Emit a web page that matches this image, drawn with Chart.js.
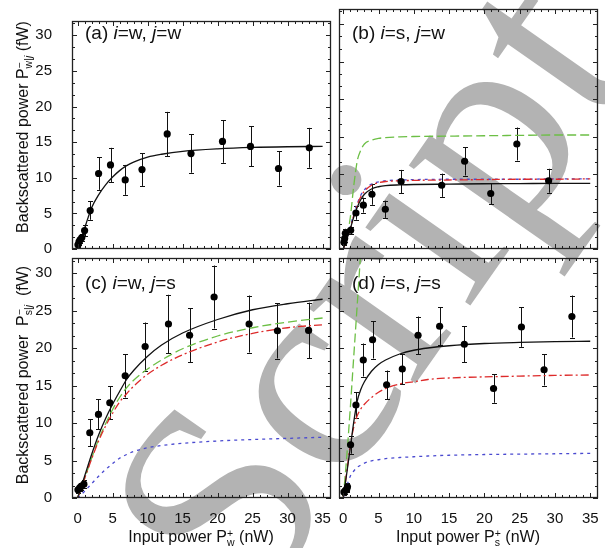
<!DOCTYPE html>
<html>
<head>
<meta charset="utf-8">
<script src="https://cdn.jsdelivr.net/npm/chart.js@4.4.1/dist/chart.umd.min.js"></script>
<style>
  body { margin: 0; background: #fff; font-family: "Liberation Sans", Arial, sans-serif; }
  #wrap { position: relative; width: 605px; height: 548px; overflow: hidden; }
  canvas { position: absolute; left: 0; top: 0; z-index: 2; }
  .wm { position: absolute; z-index: 1; left: 366px; top: 288px; font-family: "Liberation Serif", serif;
        font-size: 285px; color: #b3b3b3; white-space: nowrap; line-height: 1;
        transform: translate(-50%, -50%) rotate(-55deg); }
  .lbl { position: absolute; z-index: 3; font-size: 19px; line-height: 22px; color: #111; white-space: nowrap; }
  .ytitle { position: absolute; z-index: 3; font-size: 16px; color: #111; white-space: nowrap;
            transform: translate(-50%, -50%) rotate(-90deg); }
  .xtitle { position: absolute; z-index: 3; font-size: 16px; color: #111; white-space: nowrap;
            transform: translate(-50%, -50%); }
  .ss { display: inline-block; vertical-align: -4px; font-size: 10.5px; line-height: 9px; text-align: left; }
  .ss span { display: block; }
</style>
</head>
<body>
<div id="wrap">
  <div class="wm">Script</div>
  <canvas id="ca" width="605" height="548"></canvas>
  <canvas id="cb" width="605" height="548"></canvas>
  <canvas id="cc" width="605" height="548"></canvas>
  <canvas id="cd" width="605" height="548"></canvas>
  <div class="lbl" style="left:85px;top:22px">(a) <i>i</i>=w, <i>j</i>=w</div>
  <div class="lbl" style="left:352px;top:22px">(b) <i>i</i>=s, <i>j</i>=w</div>
  <div class="lbl" style="left:85px;top:272px">(c) <i>i</i>=w, <i>j</i>=s</div>
  <div class="lbl" style="left:352px;top:272px">(d) <i>i</i>=s, <i>j</i>=s</div>
  <div class="ytitle" style="left:23px;top:127px">Backscattered power P<span class="ss"><span>&minus;</span><span>w|<i>j</i></span></span> (fW)</div>
  <div class="ytitle" style="left:23px;top:375px">Backscattered power &nbsp;P<span class="ss"><span>&minus;</span><span>s|<i>j</i></span></span>&nbsp; (fW)</div>
  <div class="xtitle" style="left:201px;top:537px">Input power P<span class="ss"><span>+</span><span>w</span></span> (nW)</div>
  <div class="xtitle" style="left:468px;top:537px">Input power P<span class="ss"><span>+</span><span>s</span></span> (nW)</div>
</div>
<script>
// tick labels
const xTickVals = [0, 5, 10, 15, 20, 25, 30, 35];
const yTickVals = [0, 5, 10, 15, 20, 25, 30];

// (a) i=w, j=w
const aX = [0.05, 0.2, 0.35, 0.6, 1.0, 1.8, 3.0, 4.7, 6.8, 9.2, 12.8, 16.2, 20.7, 24.7, 28.7, 33.1];
const aY = [0.6, 1.0, 1.3, 1.6, 2.6, 5.4, 10.6, 11.8, 9.7, 11.15, 16.15, 13.4, 15.1, 14.4, 11.3, 14.2];
const aErr = [0.3, 0.4, 0.4, 0.5, 0.8, 1.3, 2.3, 2.4, 2.1, 2.3, 3.1, 2.7, 3.0, 2.8, 2.4, 2.8];
const aFitX = [0, 0.5, 1, 1.5, 2, 3, 4, 5, 6, 7, 8, 10, 12, 15, 20, 25, 30, 35];
const aFitBlack = [0, 1.4, 2.9, 4.4, 5.8, 7.6, 9.0, 10.1, 11.0, 11.7, 12.2, 12.9, 13.3, 13.7, 14.05, 14.25, 14.35, 14.4];

// (b) i=s, j=w
const bX = [0.1, 0.2, 0.3, 1.05, 1.8, 2.85, 4.07, 5.96, 8.2, 13.95, 17.2, 20.9, 24.6, 29.1];
const bY = [0.9, 1.4, 2.1, 2.5, 4.8, 5.85, 7.3, 5.3, 9.0, 8.5, 11.7, 7.4, 14.0, 9.1];
const bErr = [0.4, 0.5, 0.6, 0.5, 0.9, 1.0, 1.4, 1.15, 1.55, 1.55, 1.9, 1.4, 2.2, 1.6];
const bFitX = [0, 0.5, 1, 1.5, 2, 2.5, 3, 4, 5, 6, 8, 10, 15, 20, 25, 30, 35];
const bFitGreen = [0, 1.5, 4.2, 8.5, 11.8, 13.2, 14.0, 14.5, 14.75, 14.85, 14.95, 15.0, 15.05, 15.1, 15.15, 15.2, 15.2];
const bFitRed = [0, 1.3, 2.8, 4.5, 5.9, 7.0, 7.7, 8.5, 8.85, 9.0, 9.1, 9.15, 9.2, 9.25, 9.3, 9.3, 9.35];
const bFitBlue = [0, 1.4, 3.0, 4.7, 6.1, 7.2, 7.9, 8.65, 8.95, 9.1, 9.2, 9.25, 9.3, 9.3, 9.3, 9.35, 9.35];
const bFitBlack = [0, 1.3, 2.7, 4.3, 5.6, 6.6, 7.3, 8.0, 8.3, 8.45, 8.55, 8.6, 8.65, 8.7, 8.72, 8.75, 8.75];

// (c) i=w, j=s
const cX = [0.05, 0.3, 0.5, 0.9, 1.74, 2.98, 4.6, 6.8, 9.65, 12.98, 16.0, 19.5, 24.5, 28.55, 33.0];
const cY = [1.1, 1.35, 1.55, 1.85, 8.7, 11.15, 12.7, 16.3, 20.2, 23.2, 21.7, 26.8, 23.2, 22.3, 22.35];
const cErr = [0.4, 0.4, 0.5, 0.5, 1.8, 2.0, 2.2, 2.9, 3.2, 3.9, 3.6, 4.2, 3.8, 3.7, 3.7];
const cFitX = [0, 1, 2, 3, 4, 5, 6, 7, 8, 10, 12, 15, 20, 25, 30, 35];
const cFitBlack = [0, 2.9, 5.8, 8.4, 10.6, 12.5, 14.2, 15.8, 17.0, 18.9, 20.4, 22.0, 23.8, 25.1, 25.9, 26.5];
const cFitGreen = [0, 2.6, 5.3, 7.8, 9.9, 11.8, 13.4, 14.7, 15.7, 17.2, 18.4, 19.9, 21.6, 22.7, 23.45, 24.0];
const cFitRed = [0, 2.6, 5.2, 7.6, 9.6, 11.3, 12.8, 13.9, 14.9, 16.5, 17.7, 19.1, 20.8, 21.95, 22.7, 23.1];
const cFitBlue = [0, 0.9, 1.9, 2.9, 3.8, 4.6, 5.3, 5.8, 6.2, 6.7, 7.0, 7.3, 7.6, 7.8, 7.95, 8.1];

// (d) i=s, j=s
const dX = [0.1, 0.3, 0.5, 0.6, 1.04, 1.8, 2.84, 4.16, 6.15, 8.37, 10.6, 13.66, 17.16, 21.3, 25.25, 28.46, 32.4];
const dY = [0.8, 1.0, 1.2, 1.5, 7.1, 12.4, 18.4, 21.1, 15.1, 17.2, 21.7, 22.9, 20.5, 14.6, 22.8, 17.1, 24.2];
const dErr = [0.4, 0.4, 0.4, 0.5, 1.2, 1.7, 2.2, 2.5, 1.9, 2.0, 2.5, 2.55, 2.4, 1.9, 2.65, 2.1, 2.8];
const dFitX = [0, 0.5, 1, 1.5, 2, 2.5, 3, 4, 5, 6, 8, 10, 12, 15, 20, 25, 30, 35];
const dFitBlack = [0, 3.3, 6.7, 10.2, 13.0, 14.5, 15.5, 16.9, 17.8, 18.4, 19.2, 19.7, 20.0, 20.3, 20.6, 20.75, 20.85, 20.9];
const dFitRed = [0, 3.5, 7.0, 9.5, 11.0, 11.9, 12.5, 13.4, 14.1, 14.6, 15.2, 15.5, 15.8, 16.0, 16.15, 16.25, 16.35, 16.4];
const dFitBlue = [0, 1.6, 2.9, 3.6, 4.1, 4.4, 4.65, 4.95, 5.1, 5.25, 5.4, 5.5, 5.6, 5.7, 5.8, 5.85, 5.9, 5.95];
const dGreenX = [0, 0.5, 1, 1.5, 2, 2.5, 3];
const dFitGreen = [0, 5.5, 12, 19, 26, 33, 39];

const GREEN = '#6cbf45', RED = '#dd2a2a', BLUE = '#4a4ad0', BLACK = '#111';
const Y_MINOR = 5 / 3;

const pts = (xs, ys) => xs.map((x, i) => ({ x: x, y: ys[i] }));

function pointsSet(xs, ys, errs) {
  return { type: 'scatter', data: pts(xs, ys), errors: errs, order: 0,
    pointRadius: 3.6, pointBackgroundColor: '#000', pointBorderWidth: 0, showLine: false };
}
function curve(xs, ys, color, dash, order) {
  return { type: 'scatter', data: pts(xs, ys), showLine: true, borderColor: color, borderWidth: 1.3,
    borderDash: dash, pointRadius: 0, cubicInterpolationMode: 'monotone', order: order, fill: false };
}

const errorBars = {
  id: 'errorBars',
  beforeDatasetsDraw(chart) {
    const { ctx, chartArea: a, scales: { x, y } } = chart;
    ctx.save();
    ctx.beginPath();
    ctx.rect(a.left, a.top, a.width, a.height);
    ctx.clip();
    ctx.strokeStyle = '#111';
    ctx.lineWidth = 1;
    chart.data.datasets.forEach(ds => {
      if (!ds.errors) return;
      ds.data.forEach((p, i) => {
        const e = ds.errors[i];
        const px = Math.round(x.getPixelForValue(p.x)) + 0.5;
        const y1 = y.getPixelForValue(p.y - e), y2 = y.getPixelForValue(p.y + e);
        ctx.beginPath();
        ctx.moveTo(px, y1); ctx.lineTo(px, y2);
        ctx.moveTo(px - 2.5, Math.round(y1) + 0.5); ctx.lineTo(px + 2.5, Math.round(y1) + 0.5);
        ctx.moveTo(px - 2.5, Math.round(y2) + 0.5); ctx.lineTo(px + 2.5, Math.round(y2) + 0.5);
        ctx.stroke();
      });
    });
    ctx.restore();
  }
};

const frameTicks = {
  id: 'frameTicks',
  afterDraw(chart) {
    const { ctx, chartArea: a, scales: { x, y } } = chart;
    ctx.save();
    ctx.strokeStyle = '#222';
    ctx.lineWidth = 1;
    ctx.beginPath();
    for (let v = Math.ceil(x.min); v <= x.max; v++) {
      const px = Math.round(x.getPixelForValue(v)) + 0.5;
      const len = v % 5 === 0 ? 5 : 3;
      ctx.moveTo(px, a.bottom); ctx.lineTo(px, a.bottom - len);
      ctx.moveTo(px, a.top); ctx.lineTo(px, a.top + len);
    }
    for (let k = 0; k * Y_MINOR <= y.max; k++) {
      const py = Math.round(y.getPixelForValue(k * Y_MINOR)) + 0.5;
      const len = k % 3 === 0 ? 5 : 3;
      ctx.moveTo(a.left, py); ctx.lineTo(a.left + len, py);
      ctx.moveTo(a.right, py); ctx.lineTo(a.right - len, py);
    }
    ctx.stroke();
    ctx.lineWidth = 1.3;
    ctx.strokeRect(a.left + 0.5, a.top + 0.5, a.width - 1, a.height - 1);
    ctx.restore();
  }
};

// box = [left, top, right, bottom] of the plot frame in page pixels
function makePanel(id, box, xMin, xMax, showX, showY, datasets) {
  const font = { family: '"Liberation Sans", Arial, sans-serif', size: 15 };
  const xH = 548 - box[3], yW = box[0];
  return new Chart(document.getElementById(id), {
    type: 'scatter',
    data: { datasets: datasets },
    plugins: [errorBars, frameTicks],
    options: {
      responsive: false, animation: false, devicePixelRatio: 1,
      layout: { padding: { left: showY ? 0 : yW, top: box[1], right: 605 - box[2], bottom: showX ? 0 : xH } },
      plugins: { legend: { display: false }, tooltip: { enabled: false } },
      scales: {
        x: {
          type: 'linear', min: xMin, max: xMax, display: showX,
          grid: { display: false }, border: { display: false },
          afterBuildTicks: s => { s.ticks = xTickVals.map(v => ({ value: v })); },
          afterFit: s => { s.height = showX ? xH : 0; },
          ticks: { font: font, color: '#111', padding: 4, maxRotation: 0, autoSkip: false }
        },
        y: {
          type: 'linear', min: 0, max: 32, display: showY,
          grid: { display: false }, border: { display: false },
          afterBuildTicks: s => { s.ticks = yTickVals.map(v => ({ value: v })); },
          afterFit: s => { s.width = showY ? yW : 0; },
          ticks: { font: font, color: '#111', padding: 12, autoSkip: false }
        }
      }
    }
  });
}

makePanel('ca', [72, 9, 331, 249], -0.8, 36.2, false, true, [
  pointsSet(aX, aY, aErr),
  curve(aFitX, aFitBlack, BLACK, [], 1)
]);
makePanel('cb', [339, 9, 598, 249], -0.6, 36.1, false, false, [
  pointsSet(bX, bY, bErr),
  curve(bFitX, bFitBlack, BLACK, [], 1),
  curve(bFitX, bFitRed, RED, [8, 3, 2, 3], 2),
  curve(bFitX, bFitBlue, BLUE, [3, 4], 3),
  curve(bFitX, bFitGreen, GREEN, [9, 4], 4)
]);
makePanel('cc', [72, 258, 331, 498], -0.8, 36.2, true, true, [
  pointsSet(cX, cY, cErr),
  curve(cFitX, cFitBlack, BLACK, [], 1),
  curve(cFitX, cFitRed, RED, [8, 3, 2, 3], 2),
  curve(cFitX, cFitBlue, BLUE, [3, 4], 3),
  curve(cFitX, cFitGreen, GREEN, [9, 4], 4)
]);
makePanel('cd', [339, 258, 598, 498], -0.6, 36.1, true, false, [
  pointsSet(dX, dY, dErr),
  curve(dFitX, dFitBlack, BLACK, [], 1),
  curve(dFitX, dFitRed, RED, [8, 3, 2, 3], 2),
  curve(dFitX, dFitBlue, BLUE, [3, 4], 3),
  curve(dGreenX, dFitGreen, GREEN, [9, 4], 4)
]);
</script>
</body>
</html>
